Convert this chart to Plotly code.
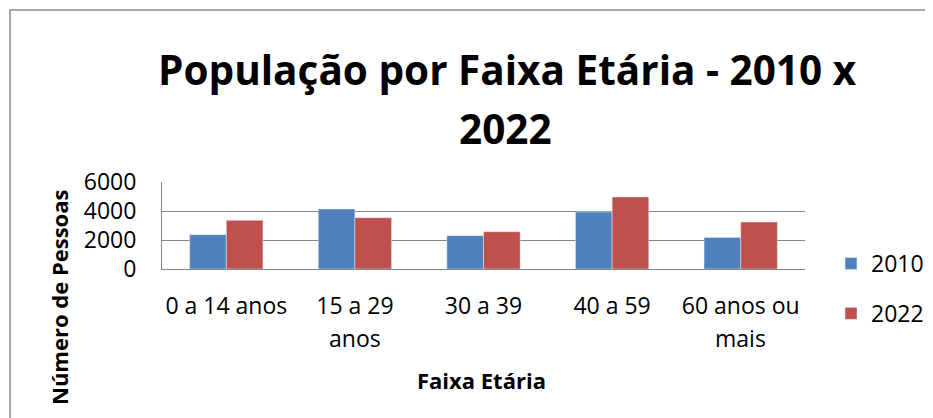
import plotly.graph_objects as go

categories = ["0 a 14 anos", "15 a 29 anos", "30 a 39", "40 a 59", "60 anos ou mais"]
tick_line1 = ["0 a 14 anos", "15 a 29", "30 a 39", "40 a 59", "60 anos ou"]
tick_line2 = ["", "anos", "", "", "mais"]
values_2010 = [2370, 4140, 2300, 3930, 2180]
values_2022 = [3360, 3540, 2570, 4970, 3240]
y_ticks = [0, 2000, 4000, 6000]

FONT = "Open Sans"
OFF = 8  # page body margin
W, H = 933 - OFF, 418 - OFF
L, R, T, B = 162 - OFF, 805 - OFF, 182 - OFF, 269 - OFF  # plot area in px

def px_x(px):
    return (px - OFF - L) / (R - L)

def px_y(py):
    return (B - (py - OFF)) / (B - T)

fig = go.Figure()
fig.add_trace(go.Bar(name="2010", x=categories, y=values_2010, marker_color="#4F81BD",
                     legendgroup="a"))
fig.add_trace(go.Bar(name="2022", x=categories, y=values_2022, marker_color="#C0504D",
                     legendgroup="b"))

fig.update_layout(
    width=W, height=H,
    margin=dict(l=L, r=W - R, t=T, b=H - B, autoexpand=False),
    paper_bgcolor="white", plot_bgcolor="white",
    barmode="group", bargap=0.43, bargroupgap=0,
    font=dict(family=FONT, color="black", size=23),
    showlegend=True,
    legend=dict(x=px_x(831), y=px_y(242), xanchor="left", yanchor="top",
                font=dict(size=23, family=FONT), traceorder="grouped",
                tracegroupgap=17, bgcolor="rgba(0,0,0,0)"),
    xaxis=dict(showticklabels=True, tickmode="array", tickvals=categories,
               ticktext=tick_line1, tickfont=dict(size=23), ticks="",
               showline=True, linecolor="#868686", linewidth=1, showgrid=False,
               ticklabelstandoff=16),
    yaxis=dict(range=[0, 6000], tickvals=y_ticks, tickfont=dict(size=23),
               showgrid=True, gridcolor="#868686", gridwidth=1,
               showline=True, linecolor="#868686", linewidth=1,
               zeroline=False, ticks="", ticklabelstandoff=20),
)

annotations = [
    dict(text="<b>População por Faixa Etária - 2010 x</b>", xref="paper", yref="paper",
         x=px_x(507), y=px_y(70), showarrow=False, font=dict(size=40.5, family=FONT),
         xanchor="center", yanchor="middle"),
    dict(text="<b>2022</b>", xref="paper", yref="paper",
         x=px_x(505), y=px_y(128), showarrow=False, font=dict(size=40.5, family=FONT),
         xanchor="center", yanchor="middle"),
    dict(text="<b>Faixa Etária</b>", xref="paper", yref="paper",
         x=px_x(481), y=px_y(380), showarrow=False, font=dict(size=22, family=FONT),
         xanchor="center", yanchor="middle"),
    dict(text="<b>Número de Pessoas</b>", xref="paper", yref="paper",
         x=px_x(59), y=px_y(298), showarrow=False, font=dict(size=22, family=FONT),
         textangle=-90, xanchor="center", yanchor="middle"),
]
for cat, t2 in zip(categories, tick_line2):
    if t2:
        annotations.append(dict(text=t2, xref="x", yref="paper", x=cat, y=px_y(338),
                                showarrow=False, font=dict(size=23, family=FONT),
                                xanchor="center", yanchor="middle"))
fig.update_layout(annotations=annotations)

fig.add_shape(type="rect", xref="paper", yref="paper",
              x0=px_x(10), x1=px_x(960), y0=px_y(440), y1=px_y(10),
              line=dict(color="#8C8C8C", width=1.5), fillcolor="rgba(0,0,0,0)",
              layer="below")

fig.write_html("out.html")
